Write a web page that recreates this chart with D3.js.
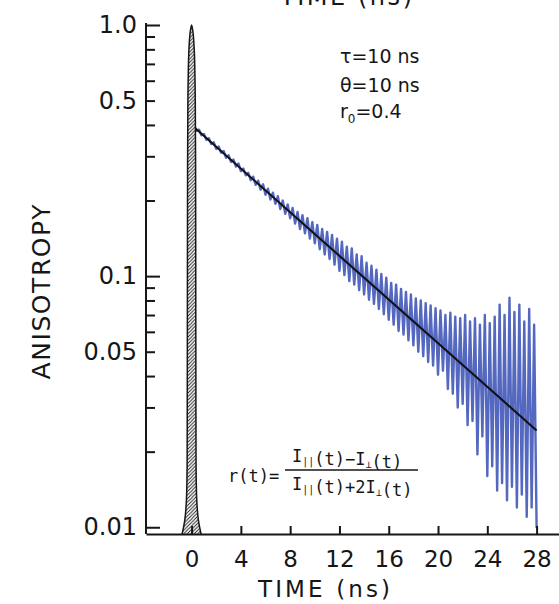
<!DOCTYPE html>
<html>
<head>
<meta charset="utf-8">
<script src="https://cdn.jsdelivr.net/npm/d3@7"></script>
<style>
  body { margin: 0; background: #fff; }
  svg { display: block; }
</style>
</head>
<body>
<div id="chart"></div>
<script>
const sampleStart = 0.2;
const sampleStep = 0.2;
const anisotropyData = [
    0.398, 0.379, 0.383, 0.364, 0.368, 0.349, 0.354, 0.336, 0.341, 0.321,
    0.328, 0.310, 0.315, 0.296, 0.303, 0.285, 0.291, 0.273, 0.281, 0.262,
    0.268, 0.252, 0.258, 0.241, 0.249, 0.231, 0.240, 0.221, 0.232, 0.211,
    0.223, 0.202, 0.215, 0.194, 0.208, 0.185, 0.200, 0.177, 0.193, 0.170,
    0.187, 0.162, 0.180, 0.154, 0.175, 0.148, 0.170, 0.141, 0.164, 0.135,
    0.160, 0.128, 0.154, 0.122, 0.150, 0.117, 0.146, 0.111, 0.141, 0.105,
    0.137, 0.101, 0.131, 0.0955, 0.129, 0.0925, 0.122, 0.0880, 0.120, 0.0845,
    0.113, 0.0805, 0.110, 0.0775, 0.106, 0.0740, 0.102, 0.0705, 0.0985, 0.0670,
    0.0940, 0.0640, 0.0925, 0.0605, 0.0890, 0.0585, 0.0865, 0.0555, 0.0845, 0.0530,
    0.0815, 0.0500, 0.0800, 0.0480, 0.0780, 0.0455, 0.0765, 0.0440, 0.0745, 0.0405,
    0.0730, 0.0420, 0.0700, 0.0355, 0.0715, 0.0340, 0.0690, 0.0300, 0.0680, 0.0310,
    0.0700, 0.0255, 0.0660, 0.0265, 0.0680, 0.0195, 0.0640, 0.0230, 0.0700, 0.0160,
    0.0650, 0.0175, 0.0690, 0.0140, 0.0770, 0.0150, 0.0700, 0.0128, 0.0820, 0.0145,
    0.0720, 0.0120, 0.0770, 0.0135, 0.0660, 0.0110, 0.0740, 0.0120, 0.0640, 0.0100
];

// fitted single-exponential decay (straight line on the log axis)
const fitTimes = [0.3, 28];
const fitValues = [0.388, 0.0243];

// excitation pulse outline
const pulseTimes = [-0.77, -0.55, -0.42, -0.36, -0.35, -0.34, -0.33, -0.30, -0.22, -0.11, 0,
    0.11, 0.22, 0.30, 0.33, 0.34, 0.35, 0.36, 0.42, 0.55, 0.77];
const pulseValues = [0.0094, 0.0107, 0.0128, 0.0185, 0.032, 0.08, 0.2, 0.5, 0.79, 0.94, 1.0,
    0.94, 0.79, 0.5, 0.2, 0.08, 0.032, 0.0185, 0.0128, 0.0107, 0.0094];

const xTickValues = [0, 4, 8, 12, 16, 20, 24, 28];
const yLabelValues = [1, 0.5, 0.1, 0.05, 0.01];
const yLabelTexts = ["1.0", "0.5", "0.1", "0.05", "0.01"];
const yDecadeTicks = [1, 0.1, 0.01];
const yShortTicks = [0.9, 0.8, 0.7, 0.6, 0.5, 0.4, 0.3, 0.2,
    0.09, 0.08, 0.07, 0.06, 0.05, 0.04, 0.03, 0.02];

const width = 559;
const height = 604;
const ink = "#161616";
const font = "DejaVu Sans, sans-serif";

const svg = d3.select("#chart").append("svg")
    .attr("width", width)
    .attr("height", height)
    .attr("viewBox", `0 0 ${width} ${height}`);

const x = d3.scaleLinear().domain([-3.7, 29.9]).range([146, 560]);
const y = d3.scaleLog().domain([0.0094, 1]).range([534, 25]);

const defs = svg.append("defs");
const hatch = defs.append("pattern")
    .attr("id", "hatch")
    .attr("patternUnits", "userSpaceOnUse")
    .attr("width", 3.5)
    .attr("height", 3.5);
hatch.append("rect").attr("width", 3.5).attr("height", 3.5).attr("fill", "#fff");
hatch.append("path")
    .attr("d", "M-1,1 l2,-2 M0,3.5 l3.5,-3.5 M2.5,4.5 l2,-2")
    .attr("stroke", ink)
    .attr("stroke-width", 0.9);

// data trace
const dataLine = d3.line()
    .x((d, i) => x(sampleStart + i * sampleStep))
    .y((d) => y(d));

svg.append("path")
    .datum(anisotropyData)
    .attr("d", dataLine)
    .attr("fill", "none")
    .attr("stroke", "#5468c0")
    .attr("stroke-width", 2.4)
    .attr("stroke-linejoin", "round")
    .attr("stroke-linecap", "round");

// fit
svg.append("path")
    .datum(fitTimes.map((t, i) => [t, fitValues[i]]))
    .attr("d", d3.line().x((d) => x(d[0])).y((d) => y(d[1])))
    .attr("fill", "none")
    .attr("stroke", "#111")
    .attr("stroke-width", 2);

// excitation pulse
svg.append("path")
    .datum(pulseTimes.map((t, i) => [t, pulseValues[i]]))
    .attr("d", d3.line().x((d) => x(d[0])).y((d) => y(d[1])).curve(d3.curveCatmullRom.alpha(0.5)))
    .attr("fill", "url(#hatch)")
    .attr("stroke", ink)
    .attr("stroke-width", 1.5);

// y axis
const yAxisG = svg.append("g").attr("transform", "translate(146,0)");
yAxisG.append("g")
    .call(d3.axisRight(y).tickValues(yShortTicks).tickSize(9).tickFormat(""))
    .call((g) => g.select(".domain").remove());
yAxisG.append("g")
    .call(d3.axisRight(y).tickValues(yDecadeTicks).tickSize(14).tickFormat(""))
    .call((g) => g.select(".domain").remove());
yAxisG.append("g")
    .call(d3.axisLeft(y).tickValues(yLabelValues).tickSize(0).tickPadding(9)
        .tickFormat((d, i) => yLabelTexts[i]))
    .call((g) => g.select(".domain").remove());
yAxisG.append("line")
    .attr("x1", 0).attr("x2", 0)
    .attr("y1", y(0.0094)).attr("y2", 23);

yAxisG.selectAll("line").attr("stroke", ink).attr("stroke-width", 2);
yAxisG.selectAll("text")
    .attr("font-family", font)
    .attr("font-size", 24)
    .attr("fill", ink);

// x axis
const xAxisG = svg.append("g")
    .attr("transform", `translate(0,${y(0.0094)})`)
    .call(d3.axisBottom(x).tickValues(xTickValues).tickSizeInner(-8).tickSizeOuter(0).tickPadding(17));
xAxisG.selectAll("line, path").attr("stroke", ink).attr("stroke-width", 2);
xAxisG.selectAll("text")
    .attr("font-family", font)
    .attr("font-size", 23)
    .attr("fill", ink);

// axis titles
svg.append("text")
    .attr("transform", "translate(50,292) rotate(-90)")
    .attr("text-anchor", "middle")
    .attr("font-family", font)
    .attr("font-size", 25)
    .attr("textLength", 175)
    .attr("lengthAdjust", "spacing")
    .attr("fill", ink)
    .text("ANISOTROPY");

svg.append("text")
    .attr("x", 324)
    .attr("y", 597)
    .attr("text-anchor", "middle")
    .attr("font-family", font)
    .attr("font-size", 23)
    .attr("textLength", 132)
    .attr("lengthAdjust", "spacing")
    .attr("fill", ink)
    .text("TIME (ns)");

// title of the panel above, cropped at the top edge as in the source
svg.append("text")
    .attr("x", 346)
    .attr("y", 5)
    .attr("text-anchor", "middle")
    .attr("font-family", font)
    .attr("font-size", 24)
    .attr("textLength", 132)
    .attr("lengthAdjust", "spacing")
    .attr("fill", ink)
    .text("TIME (ns)");

// parameters
const params = svg.append("g")
    .attr("font-family", font)
    .attr("font-size", 19)
    .attr("fill", ink);
params.append("text").attr("x", 340).attr("y", 63).text("τ=10 ns");
params.append("text").attr("x", 340).attr("y", 92).text("θ=10 ns");
const r0 = params.append("text").attr("x", 340).attr("y", 118);
r0.append("tspan").text("r");
r0.append("tspan").attr("font-size", 12).attr("dy", 5).text("0");
r0.append("tspan").attr("dy", -5).text("=0.4");

// anisotropy definition
const formula = svg.append("g")
    .attr("font-family", "DejaVu Sans Mono, monospace")
    .attr("font-size", 17)
    .attr("fill", ink);
formula.append("text").attr("x", 228).attr("y", 482).text("r(t)=");

function fracPart(yPos, pieces) {
    const t = formula.append("text").attr("x", 292).attr("y", yPos);
    pieces.forEach(([txt, sub]) => {
        if (sub) {
            t.append("tspan").attr("font-size", 10).attr("dy", 3).text(txt);
            t.append("tspan").attr("dy", -3).text("");
        } else {
            t.append("tspan").text(txt);
        }
    });
}
fracPart(462, [["I"], ["||", true], ["(t)−I"], ["⊥", true], ["(t)"]]);
fracPart(490, [["I"], ["||", true], ["(t)+2I"], ["⊥", true], ["(t)"]]);
formula.append("line")
    .attr("x1", 285).attr("x2", 418)
    .attr("y1", 470).attr("y2", 470)
    .attr("stroke", ink)
    .attr("stroke-width", 1.6);
</script>
</body>
</html>
